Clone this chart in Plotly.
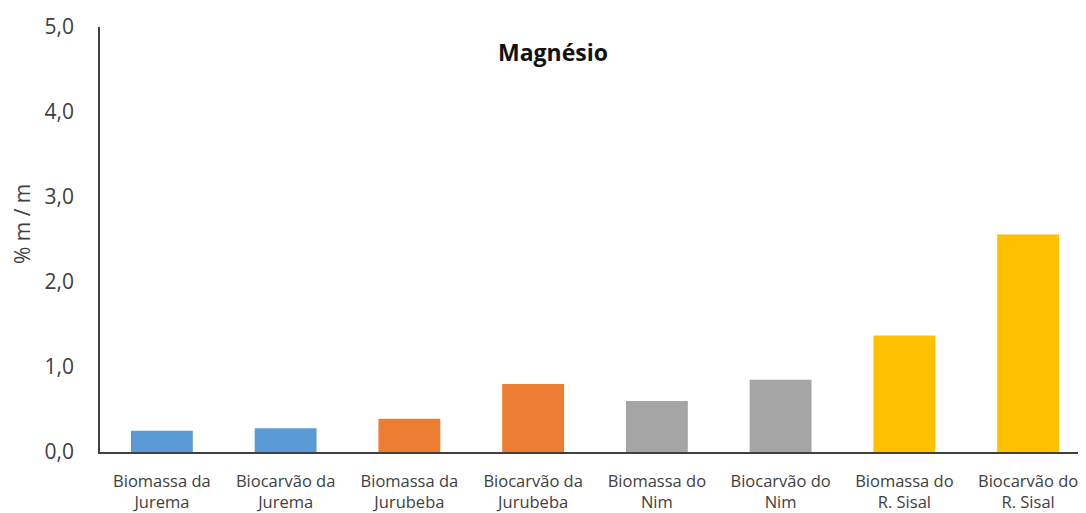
import plotly.graph_objects as go

categories = [
    "Biomassa da<br>Jurema", "Biocarvão da<br>Jurema",
    "Biomassa da<br>Jurubeba", "Biocarvão da<br>Jurubeba",
    "Biomassa do<br>Nim", "Biocarvão do<br>Nim",
    "Biomassa do<br>R. Sisal", "Biocarvão do<br>R. Sisal",
]
values = [0.25, 0.28, 0.39, 0.80, 0.60, 0.85, 1.37, 2.56]
colors = ["#5B9BD5", "#5B9BD5", "#ED7D31", "#ED7D31",
          "#A5A5A5", "#A5A5A5", "#FFC000", "#FFC000"]
y_ticks = [0, 1, 2, 3, 4, 5]
y_ticklabels = ["0,0", "1,0", "2,0", "3,0", "4,0", "5,0"]

# page body has an 8px margin; layout is expressed in screen pixels minus it
OFF = 8
W, H = 1086, 513
L = 100 - OFF
T = 27 - OFF
B = H - (452 - OFF)
R = W - (1090 - OFF)
plot_w = W - L - R
plot_h = H - T - B


def px_x(x):
    return (x - OFF - L) / plot_w


def px_y(y):
    return (H - B - (y - OFF)) / plot_h


fig = go.Figure(go.Bar(x=categories, y=values, marker_color=colors,
                       marker_line_width=0))

font = "Open Sans, Noto Sans, sans-serif"
fig.update_layout(
    width=W, height=H,
    margin=dict(l=L, r=R, t=T, b=B, autoexpand=False),
    paper_bgcolor="white", plot_bgcolor="white",
    bargap=0.5, showlegend=False,
    font=dict(family=font, color="#595959"),
    annotations=[
        dict(text="<b>Magnésio</b>", x=px_x(553), xref="paper",
             y=px_y(52), yref="paper", yanchor="middle", xanchor="center",
             showarrow=False, font=dict(size=23, color="#111111")),
        dict(text="% m / m", textangle=-90, x=px_x(22), xref="paper",
             y=px_y(224), yref="paper", xanchor="center", yanchor="middle",
             showarrow=False, font=dict(size=21, color="#404040")),
    ],
)
fig.update_xaxes(showline=True, linecolor="#404040", linewidth=1.5,
                 ticks="", automargin=False,
                 tickfont=dict(size=16.5, color="#404040"),
                 ticklabelstandoff=13)
fig.update_yaxes(range=[0, 5], tickvals=y_ticks, ticktext=y_ticklabels,
                 showline=True, linecolor="#404040", linewidth=1.5,
                 showgrid=False, zeroline=False, ticks="", automargin=False,
                 tickfont=dict(size=21, color="#404040"),
                 ticklabelstandoff=20)
fig.write_html("out.html")
